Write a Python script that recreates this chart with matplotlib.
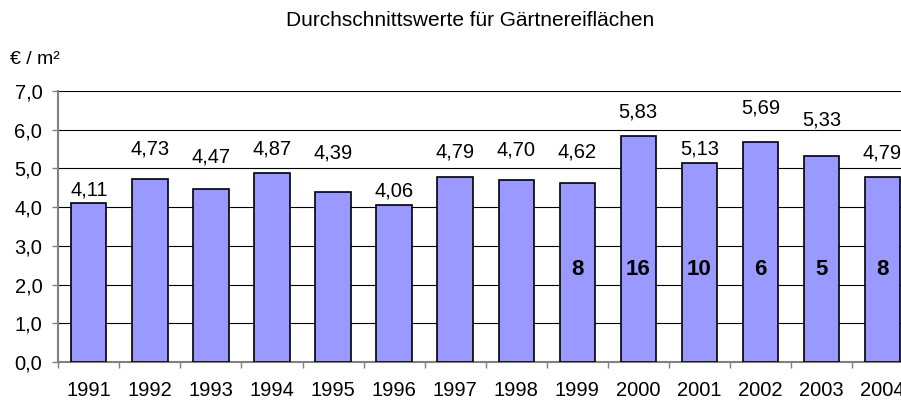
import matplotlib
matplotlib.use('Agg')
import matplotlib.pyplot as plt

years = [1991, 1992, 1993, 1994, 1995, 1996, 1997, 1998, 1999, 2000, 2001, 2002, 2003, 2004]
values = [4.11, 4.73, 4.47, 4.87, 4.39, 4.06, 4.79, 4.70, 4.62, 5.83, 5.13, 5.69, 5.33, 4.79]
count_years = [1999, 2000, 2001, 2002, 2003, 2004]
counts = [8, 16, 10, 6, 5, 8]
yticks = [0, 1, 2, 3, 4, 5, 6, 7]

# vertical gap (px) between bar top and value label centre, as in the original
label_gap = [13, 30, 32, 24, 39, 14, 25, 30, 31, 24, 14, 34, 36, 24]

plt.rcParams['font.family'] = ['Liberation Sans', 'DejaVu Sans']

fig = plt.figure(figsize=(9.01, 4.01), dpi=100)
ax = fig.add_axes([58.3 / 901, 1 - 362 / 401, 854.7 / 901, 271 / 401])

x = list(range(len(years)))
ax.bar(x, values, width=0.578, color='#9999FF', edgecolor='black', linewidth=1.2, zorder=3)

for i, v in enumerate(values):
    ax.annotate(f'{v:.2f}'.replace('.', ','), (i, v), xytext=(0, label_gap[i] * 0.72),
                textcoords='offset points', ha='center', va='center', fontsize=14.5, zorder=4)

for yr, c in zip(count_years, counts):
    ax.text(years.index(yr), 2.38, str(c), ha='center', va='center',
            fontsize=16, fontweight='bold', zorder=4)

ax.set_xlim(-0.5, len(years) - 0.5)
ax.set_ylim(0, 7)
ax.set_yticks(yticks)
ax.set_yticklabels([f'{t:.1f}'.replace('.', ',') for t in yticks], fontsize=14.5)
ax.set_xticks(x)
ax.set_xticklabels([str(y) for y in years], fontsize=14.5)
ax.set_xticks([i - 0.5 for i in range(len(years) + 1)], minor=True)
ax.tick_params(axis='x', which='major', length=0, pad=14)
ax.tick_params(axis='x', which='minor', length=4.5, width=1, color='#808080', direction='out')
ax.tick_params(axis='y', length=4.5, width=1, color='#808080', pad=7)

ax.grid(axis='y', color='black', linewidth=0.8, zorder=0)
for s in ['top', 'right']:
    ax.spines[s].set_visible(False)
for s in ['left', 'bottom']:
    ax.spines[s].set_color('#808080')
    ax.spines[s].set_linewidth(1.5)

fig.text(470 / 901, 1 - 21 / 401, 'Durchschnittswerte für Gärtnereiflächen',
         ha='center', va='center', fontsize=15)
fig.text(10 / 901, 1 - 60 / 401, '€ / m²', ha='left', va='center', fontsize=14)

fig.savefig('out.png', dpi=100)
